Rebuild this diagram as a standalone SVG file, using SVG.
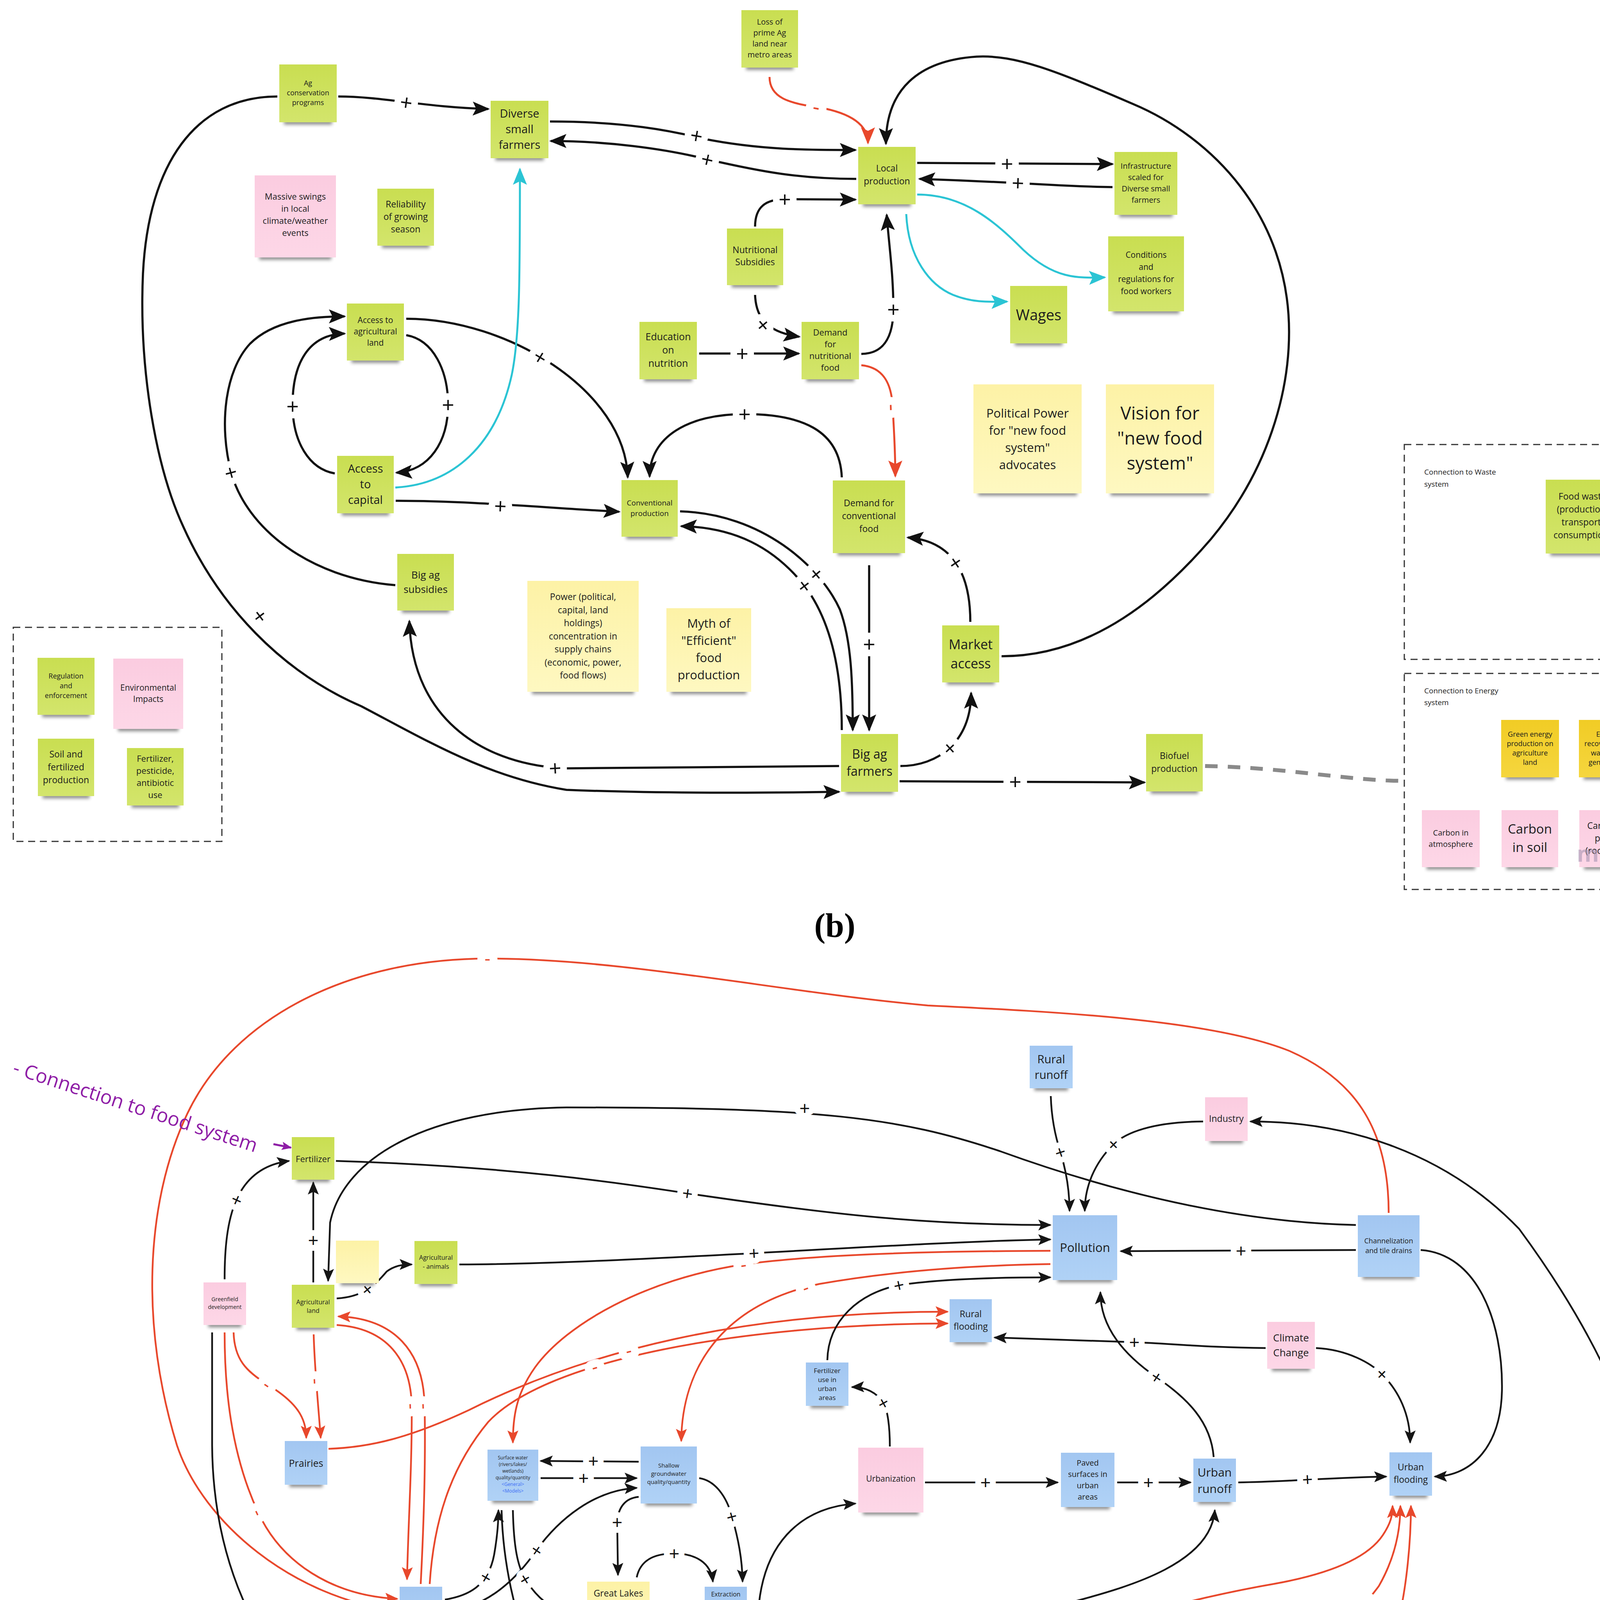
<svg xmlns="http://www.w3.org/2000/svg" width="4310" height="5495" viewBox="0 0 4310 5495">
<defs>
<linearGradient id="gG" x1="0" y1="0" x2="0" y2="1"><stop offset="0" stop-color="#c9de51"/><stop offset="1" stop-color="#d3e56c"/></linearGradient>
<linearGradient id="gP" x1="0" y1="0" x2="0" y2="1"><stop offset="0" stop-color="#fbcce0"/><stop offset="1" stop-color="#fdd7e7"/></linearGradient>
<linearGradient id="gB" x1="0" y1="0" x2="0" y2="1"><stop offset="0" stop-color="#a2c6f1"/><stop offset="1" stop-color="#b0d2f6"/></linearGradient>
<linearGradient id="gY" x1="0" y1="0" x2="0" y2="1"><stop offset="0" stop-color="#fdf2a6"/><stop offset="1" stop-color="#fef8c1"/></linearGradient>
<linearGradient id="gO" x1="0" y1="0" x2="0" y2="1"><stop offset="0" stop-color="#f1cc25"/><stop offset="1" stop-color="#f5d63e"/></linearGradient>
<filter id="bl" x="-20%" y="-150%" width="140%" height="400%"><feGaussianBlur stdDeviation="4"/></filter>
<marker id="mk" viewBox="0 0 44 36" refX="40" refY="18" markerWidth="44" markerHeight="36" markerUnits="userSpaceOnUse" orient="auto"><path d="M0 0 L44 18 L0 36 L9 18Z" fill="#111"/></marker>
<marker id="mr" viewBox="0 0 44 36" refX="40" refY="18" markerWidth="44" markerHeight="36" markerUnits="userSpaceOnUse" orient="auto"><path d="M0 0 L44 18 L0 36 L9 18Z" fill="#e8482c"/></marker>
<marker id="mc" viewBox="0 0 44 36" refX="40" refY="18" markerWidth="44" markerHeight="36" markerUnits="userSpaceOnUse" orient="auto"><path d="M0 0 L44 18 L0 36 L9 18Z" fill="#2bc4d4"/></marker>
<marker id="sk" viewBox="0 0 34 28" refX="31" refY="14" markerWidth="34" markerHeight="28" markerUnits="userSpaceOnUse" orient="auto"><path d="M0 0 L34 14 L0 28 L7 14Z" fill="#151515"/></marker>
<marker id="sr" viewBox="0 0 34 28" refX="31" refY="14" markerWidth="34" markerHeight="28" markerUnits="userSpaceOnUse" orient="auto"><path d="M0 0 L34 14 L0 28 L7 14Z" fill="#e8482c"/></marker>
<marker id="sg" viewBox="0 0 34 28" refX="31" refY="14" markerWidth="34" markerHeight="28" markerUnits="userSpaceOnUse" orient="auto"><path d="M0 0 L34 14 L0 28 L7 14Z" fill="#8c8c8c"/></marker>
<marker id="sp" viewBox="0 0 34 28" refX="31" refY="14" markerWidth="26" markerHeight="22" markerUnits="userSpaceOnUse" orient="auto"><path d="M0 0 L34 14 L0 28 L7 14Z" fill="#8e1da6"/></marker>
</defs>
<style>
.ng{fill:url(#gG)}.np{fill:url(#gP)}.nb{fill:url(#gB)}.ny{fill:url(#gY)}.no{fill:url(#gO)}
.sh{fill:#2e2e2e;opacity:.55;filter:url(#bl)}
.t{font-family:'Open Sans','Liberation Sans',sans-serif;fill:#1c1c1c;text-anchor:middle}
.k{fill:none;stroke:#111;stroke-width:5.5}
.kr{fill:none;stroke:#e8482c;stroke-width:5}
.kc{fill:none;stroke:#2bc4d4;stroke-width:5}
.c{fill:none;stroke:#151515;stroke-width:4.5}
.cr{fill:none;stroke:#e8482c;stroke-width:4.5}
.cg{fill:none;stroke:#8c8c8c;stroke-width:4.5}
.lab{font-family:'Liberation Sans',sans-serif;font-size:54px;text-anchor:middle;dominant-baseline:central;fill:#111;stroke:#fff;stroke-width:34px;paint-order:stroke;stroke-linejoin:round}
.ls{font-size:46px;stroke-width:30px}
.lr{fill:#e8482c;stroke-width:40px}
.dash{fill:none;stroke:#333;stroke-width:3;stroke-dasharray:18 12}
.bx{font-family:'Open Sans','Liberation Sans',sans-serif;fill:#222;font-size:19px}
</style>
<rect width="4310" height="5495" fill="#fff"/>
<g id="connectors">
<path class="k" d="M866 247 C980 247 1090 275 1250 279" marker-end="url(#mk)"/>
<path class="k" d="M710 247 C500 247 380 420 366 700 C355 950 400 1200 470 1350 C560 1550 720 1720 925 1808 C1100 1900 1250 1990 1450 2022 C1700 2032 1950 2030 2148 2027" marker-end="url(#mk)"/>
<path class="k" d="M1408 311 C1600 311 1720 335 1800 355 C1950 385 2080 384 2190 384" marker-end="url(#mk)"/>
<path class="k" d="M2192 458 C2050 458 1950 440 1811 408 C1700 380 1550 361 1410 361" marker-end="url(#mk)"/>
<path class="kr" d="M1970 197 C1970 250 2020 265 2097 275 C2180 290 2222 320 2222 366" marker-end="url(#mr)"/>
<path class="k" d="M2564 1680 C2800 1680 2980 1520 3100 1380 C3250 1200 3300 1000 3300 850 C3300 550 3100 350 2900 266 C2700 180 2600 140 2500 145 C2350 155 2268 230 2268 368" marker-end="url(#mk)"/>
<path class="k" d="M2348 417 L2848 420" marker-end="url(#mk)"/>
<path class="k" d="M2848 479 C2700 477 2650 468 2354 458" marker-end="url(#mk)"/>
<path class="kc" d="M2320 548 C2325 660 2380 730 2440 755 C2490 775 2530 773 2578 772" marker-end="url(#mc)"/>
<path class="kc" d="M2348 498 C2470 498 2550 570 2620 640 C2700 715 2760 712 2828 710" marker-end="url(#mc)"/>
<path class="k" d="M1933 580 C1933 530 1960 510 2010 510 L2190 511" marker-end="url(#mk)"/>
<path class="k" d="M1933 755 C1935 810 1960 850 2046 862" marker-end="url(#mk)"/>
<path class="k" d="M1790 905 L2045 905" marker-end="url(#mk)"/>
<path class="k" d="M2205 906 C2270 906 2287 850 2287 790 C2287 700 2275 620 2270 550" marker-end="url(#mk)"/>
<path class="kr" d="M2205 935 C2260 940 2282 980 2285 1040 C2290 1120 2292 1170 2292 1219" marker-end="url(#mr)"/>
<path class="k" d="M2155 1222 C2150 1100 2050 1060 1906 1060 C1760 1060 1663 1120 1663 1220" marker-end="url(#mk)"/>
<path class="k" d="M1040 816 C1300 816 1600 1000 1607 1222" marker-end="url(#mk)"/>
<path class="k" d="M857 1212 C790 1200 750 1130 749 1040 C748 930 790 856 882 854" marker-end="url(#mk)"/>
<path class="k" d="M1040 858 C1110 870 1147 950 1147 1036 C1147 1130 1100 1205 1015 1210" marker-end="url(#mk)"/>
<path class="k" d="M1012 1498 C790 1480 630 1350 592 1210 C560 1090 575 950 640 880 C700 820 800 810 882 810" marker-end="url(#mk)"/>
<path class="kc" d="M1012 1248 C1160 1240 1270 1140 1310 960 C1331 860 1331 700 1331 433" marker-end="url(#mc)"/>
<path class="k" d="M1013 1282 C1200 1282 1400 1300 1585 1310" marker-end="url(#mk)"/>
<path class="k" d="M1741 1309 C1950 1315 2100 1450 2150 1560 C2180 1640 2183 1750 2183 1869" marker-end="url(#mk)"/>
<path class="k" d="M2155 1869 C2155 1700 2120 1580 2060 1500 C1980 1400 1880 1350 1744 1347" marker-end="url(#mk)"/>
<path class="k" d="M2225 1447 L2225 1869" marker-end="url(#mk)"/>
<path class="k" d="M2484 1592 C2484 1470 2440 1385 2324 1376" marker-end="url(#mk)"/>
<path class="k" d="M2305 1961 C2400 1961 2486 1900 2486 1774" marker-end="url(#mk)"/>
<path class="k" d="M2148 1961 L1450 1967 C1250 1960 1055 1850 1048 1590" marker-end="url(#mk)"/>
<path class="k" d="M2303 2000 L2930 2003" marker-end="url(#mk)"/>
<path d="M3085 1961 C3300 1965 3450 1999 3595 1999" fill="none" stroke="#8a8a8a" stroke-width="10" stroke-dasharray="32 26"/>
<path class="cr" d="M3555 3105 C3555 2880 3460 2760 3300 2690 C3100 2610 2700 2590 2375 2574 C2000 2540 1600 2454 1248 2454 C900 2454 600 2600 480 2850 C370 3080 360 3400 453 3700 C520 3900 750 4090 1017 4124" marker-end="url(#sr)"/>
<path class="c" d="M860 2972 C1300 2985 1600 3030 1760 3055 C2100 3105 2350 3136 2689 3136" marker-end="url(#sk)"/>
<path class="c" d="M3471 3136 C3200 3130 2900 3070 2560 2947 C2300 2860 2100 2835 1450 2835 C1100 2840 880 2960 845 3130 L840 3279" marker-end="url(#sk)"/>
<path class="c" d="M802 3283 L802 3027" marker-end="url(#sk)"/>
<path class="c" d="M575 3275 C575 3120 600 2990 740 2972" marker-end="url(#sk)"/>
<path class="c" d="M862 3324 C930 3320 960 3290 990 3255 C1010 3240 1030 3237 1054 3237" marker-end="url(#sk)"/>
<path class="c" d="M1176 3237 C1600 3236 2300 3180 2689 3173" marker-end="url(#sk)"/>
<path class="cr" d="M2689 3202 C2400 3203 2100 3210 1903 3237 C1650 3275 1450 3390 1370 3500 C1320 3570 1313 3630 1313 3693" marker-end="url(#sr)"/>
<path class="cr" d="M2689 3236 C2450 3240 2250 3260 2097 3287 C1850 3340 1746 3500 1744 3689" marker-end="url(#sr)"/>
<path class="cr" d="M1100 4055 C1110 3900 1150 3760 1250 3640 C1400 3480 1900 3390 2426 3388" marker-end="url(#sr)"/>
<path class="cr" d="M841 3709 C950 3705 1050 3680 1200 3610 C1500 3460 1900 3358 2426 3358" marker-end="url(#sr)"/>
<path class="cr" d="M862 3392 C990 3400 1052 3480 1054 3600 C1055 3750 1045 3900 1042 4043" marker-end="url(#sr)"/>
<path class="cr" d="M1077 4055 C1085 3900 1090 3750 1087 3600 C1085 3460 1010 3375 866 3370" marker-end="url(#sr)"/>
<path class="cr" d="M598 3411 C600 3480 630 3510 684 3544 C760 3590 784 3630 784 3681" marker-end="url(#sr)"/>
<path class="cr" d="M803 3416 C805 3500 815 3600 821 3681" marker-end="url(#sr)"/>
<path class="cr" d="M575 3411 C575 3550 590 3720 661 3872 C720 4000 850 4085 1017 4093" marker-end="url(#sr)"/>
<path class="c" d="M543 3411 L543 3700 C545 3950 620 4180 832 4410 C1000 4550 1200 4590 1450 4581 C1750 4540 2300 4290 2745 4101 C2900 4060 3100 4000 3110 3866" marker-end="url(#sk)"/>
<path class="cr" d="M1077 4192 C1080 4350 1150 4500 1295 4581 C1380 4625 1420 4633 1500 4632 C1700 4620 2000 4500 2245 4381 C2600 4210 3000 4100 3260 4055 C3400 4030 3500 3990 3540 3930 C3560 3900 3565 3880 3565 3855" marker-end="url(#sr)"/>
<path class="cr" d="M3297 4198 C3400 4190 3480 4130 3530 4060 C3570 3990 3585 3920 3585 3855" marker-end="url(#sr)"/>
<path class="cr" d="M3543 4393 C3545 4300 3565 4200 3583 4135 C3600 4060 3612 3950 3612 3855" marker-end="url(#sr)"/>
<path class="c" d="M1635 3742 L1384 3740" marker-end="url(#sk)"/>
<path class="c" d="M1384 3784 L1630 3784" marker-end="url(#sk)"/>
<path class="c" d="M1139 4095 C1200 4085 1250 4060 1265 3980 C1272 3940 1276 3900 1276 3866" marker-end="url(#sk)"/>
<path class="c" d="M1139 4124 C1230 4120 1310 4060 1373 3969 C1430 3890 1520 3815 1630 3809" marker-end="url(#sk)"/>
<path class="c" d="M1313 3866 C1315 3960 1325 4010 1345 4043 C1380 4100 1430 4135 1492 4137" marker-end="url(#sk)"/>
<path class="c" d="M1284 3866 C1290 4100 1380 4350 1510 4518 C1650 4690 1900 4790 2134 4799" marker-end="url(#sk)"/>
<path class="c" d="M1584 4222 C1585 4400 1640 4530 1734 4616 C1850 4720 2000 4765 2134 4770" marker-end="url(#sk)"/>
<path class="c" d="M1635 3832 C1600 3835 1582 3860 1580 3897 L1582 4032" marker-end="url(#sk)"/>
<path class="c" d="M1630 4038 C1640 3990 1680 3977 1726 3977 C1780 3977 1820 4000 1825 4049" marker-end="url(#sk)"/>
<path class="c" d="M1790 3784 C1830 3790 1860 3830 1874 3883 C1890 3940 1900 3990 1901 4049" marker-end="url(#sk)"/>
<path class="cr" d="M1857 4192 C1850 4250 1800 4285 1746 4298 C1690 4310 1640 4290 1630 4244" marker-end="url(#sr)"/>
<path class="c" d="M2368 3795 L2708 3795" marker-end="url(#sk)"/>
<path class="c" d="M2860 3795 L3048 3795" marker-end="url(#sk)"/>
<path class="c" d="M3170 3795 C3300 3793 3400 3783 3549 3780" marker-end="url(#sk)"/>
<path class="c" d="M2518 5148 C2300 5145 2120 5060 2050 4930 C2000 4830 1994 4700 1994 4570 C1990 4400 1940 4300 1940 4150 C1945 3950 2050 3860 2190 3849" marker-end="url(#sk)"/>
<path class="c" d="M2544 4505 C2450 4505 2390 4510 2344 4527 C2280 4550 2250 4600 2250 4673" marker-end="url(#sk)"/>
<path class="c" d="M2361 4799 C2430 4795 2490 4770 2525 4744 C2575 4700 2600 4640 2601 4570" marker-end="url(#sk)"/>
<path class="c" d="M2627 4936 C2630 4850 2640 4770 2645 4720 L2654 4570" marker-end="url(#sk)"/>
<path class="c" d="M2248 4927 C2250 4990 2290 5030 2340 5045 C2400 5060 2450 5062 2516 5062" marker-end="url(#sk)"/>
<path class="c" d="M2967 4927 C2967 4990 2930 5030 2888 5040 C2840 5055 2800 5062 2740 5062" marker-end="url(#sk)"/>
<path class="c" d="M2738 5110 L2900 5108 C3300 5050 3800 4900 4069 4616 C4200 4470 4244 4250 4244 4043 C4244 3800 4150 3500 3889 3146 C3700 2950 3450 2871 3201 2871" marker-end="url(#sk)"/>
<path class="c" d="M3080 2871 C2950 2872 2880 2900 2850 2930 C2800 2980 2777 3040 2777 3100" marker-end="url(#sk)"/>
<path class="c" d="M2690 2806 C2692 2870 2705 2920 2715 2950 C2730 3000 2738 3050 2738 3100" marker-end="url(#sk)"/>
<path class="c" d="M3471 3200 L2869 3203" marker-end="url(#sk)"/>
<path class="c" d="M3637 3200 C3780 3210 3848 3380 3845 3560 C3842 3700 3770 3778 3673 3780" marker-end="url(#sk)"/>
<path class="c" d="M3240 3451 C3100 3450 3000 3440 2904 3436 L2546 3424" marker-end="url(#sk)"/>
<path class="c" d="M3369 3451 C3450 3455 3510 3490 3538 3518 C3580 3560 3610 3620 3610 3693" marker-end="url(#sk)"/>
<path class="c" d="M3107 3730 C3100 3640 3040 3580 2961 3526 C2880 3470 2817 3400 2817 3308" marker-end="url(#sk)"/>
<path class="c" d="M2118 3482 C2120 3380 2200 3310 2301 3290 C2400 3275 2550 3270 2689 3270" marker-end="url(#sk)"/>
<path class="c" d="M2278 3703 C2278 3650 2272 3610 2262 3592 C2245 3565 2215 3550 2181 3551" marker-end="url(#sk)"/>
<path class="c" d="M2627 4375 C2630 4280 2690 4210 2784 4187 C2880 4165 3000 4155 3125 4152" marker-end="url(#sk)"/>
<path class="c" d="M2712 4402 C2850 4410 2950 4430 3057 4459 C3200 4500 3300 4515 3431 4518" marker-end="url(#sk)"/>
<path class="cr" d="M2712 4475 C2850 4480 2940 4520 3000 4580 C3100 4690 3200 4800 3314 4801" marker-end="url(#sr)"/>
<path class="c" d="M2712 4498 C2800 4500 2850 4510 2881 4524 C2940 4550 2967 4610 2967 4673" marker-end="url(#sk)"/>
<path class="c" d="M3808 4518 L3655 4518" marker-end="url(#sk)"/>
<path class="c" d="M911 4812 L1135 4812" marker-end="url(#sk)"/>
<path class="cr" d="M1255 4812 L1494 4812" marker-end="url(#sr)"/>
<path class="cg" d="M2139 4847 C2000 4845 1930 4838 1887 4830 C1800 4818 1700 4811 1616 4811" marker-end="url(#sg)"/>
<path d="M700 2929 L745 2938" fill="none" stroke="#8e1da6" stroke-width="5" marker-end="url(#sp)"/>
</g>

<g id="labels">
<text class="lab" x="1040" y="262" transform="rotate(8 1040 262)">+</text>
<text class="lab" x="666" y="1577" transform="rotate(53 666 1577)">+</text>
<text class="lab" x="1783" y="347" transform="rotate(10 1783 347)">+</text>
<text class="lab" x="1811" y="408" transform="rotate(13 1811 408)">+</text>
<text class="lab" x="2578" y="419">+</text>
<text class="lab" x="2606" y="468" transform="rotate(2 2606 468)">+</text>
<text class="lab" x="2009" y="510">+</text>
<text class="lab" x="1954" y="832" transform="rotate(50 1954 832)">+</text>
<text class="lab" x="1900" y="905">+</text>
<text class="lab" x="2287" y="792">+</text>
<text class="lab" x="1906" y="1060">+</text>
<text class="lab" x="1383" y="914" transform="rotate(31 1383 914)">+</text>
<text class="lab" x="749" y="1040">+</text>
<text class="lab" x="1147" y="1036">+</text>
<text class="lab" x="592" y="1210" transform="rotate(75 592 1210)">+</text>
<text class="lab" x="1281" y="1295" transform="rotate(2 1281 1295)">+</text>
<text class="lab" x="2090" y="1470" transform="rotate(50 2090 1470)">+</text>
<text class="lab" x="2060" y="1500" transform="rotate(53 2060 1500)">+</text>
<text class="lab" x="2225" y="1649">+</text>
<text class="lab" x="2447" y="1441" transform="rotate(56 2447 1441)">+</text>
<text class="lab" x="2431" y="1915" transform="rotate(-43 2431 1915)">+</text>
<text class="lab" x="1421" y="1966" transform="rotate(-3 1421 1966)">+</text>
<text class="lab" x="2599" y="2001">+</text>
<text class="lab lr" x="2090" y="273" transform="rotate(10 2090 273)">-</text>
<text class="lab lr" x="2285" y="1043" transform="rotate(88 2285 1043)">-</text>
<text class="lab ls lr" x="1248" y="2454">-</text>
<text class="lab ls" x="1760" y="3055" transform="rotate(8 1760 3055)">+</text>
<text class="lab ls" x="2060" y="2837">+</text>
<text class="lab ls" x="802" y="3175">+</text>
<text class="lab ls" x="605" y="3072" transform="rotate(-66 605 3072)">+</text>
<text class="lab ls" x="940" y="3301" transform="rotate(-40 940 3301)">+</text>
<text class="lab ls" x="1930" y="3208" transform="rotate(-3 1930 3208)">+</text>
<text class="lab ls lr" x="1903" y="3237" transform="rotate(-8 1903 3237)">-</text>
<text class="lab ls lr" x="2062" y="3296" transform="rotate(-20 2062 3296)">-</text>
<text class="lab ls lr" x="1522" y="3499" transform="rotate(-17 1522 3499)">-</text>
<text class="lab ls lr" x="1609" y="3457" transform="rotate(-14 1609 3457)">-</text>
<text class="lab ls lr" x="1054" y="3600" transform="rotate(88 1054 3600)">-</text>
<text class="lab ls lr" x="1087" y="3600" transform="rotate(88 1087 3600)">-</text>
<text class="lab ls lr" x="684" y="3544" transform="rotate(35 684 3544)">-</text>
<text class="lab ls lr" x="809" y="3536" transform="rotate(87 809 3536)">-</text>
<text class="lab ls lr" x="661" y="3872" transform="rotate(65 661 3872)">-</text>
<text class="lab ls" x="1495" y="4575" transform="rotate(-8 1495 4575)">+</text>
<text class="lab ls lr" x="2245" y="4381" transform="rotate(-26 2245 4381)">-</text>
<text class="lab ls lr" x="3496" y="4100" transform="rotate(-55 3496 4100)">-</text>
<text class="lab ls lr" x="3583" y="4135" transform="rotate(-74 3583 4135)">-</text>
<text class="lab ls" x="1519" y="3740">+</text>
<text class="lab ls" x="1494" y="3784">+</text>
<text class="lab ls" x="1243" y="4038" transform="rotate(-60 1243 4038)">+</text>
<text class="lab ls" x="1373" y="3969" transform="rotate(-55 1373 3969)">+</text>
<text class="lab ls" x="1345" y="4043" transform="rotate(59 1345 4043)">+</text>
<text class="lab ls" x="1510" y="4518" transform="rotate(52 1510 4518)">+</text>
<text class="lab ls" x="1734" y="4616" transform="rotate(42 1734 4616)">+</text>
<text class="lab ls" x="1580" y="3897">+</text>
<text class="lab ls" x="1726" y="3977">+</text>
<text class="lab ls" x="1874" y="3883" transform="rotate(75 1874 3883)">+</text>
<text class="lab ls lr" x="1746" y="4298" transform="rotate(-14 1746 4298)">-</text>
<text class="lab ls" x="2523" y="3795">+</text>
<text class="lab ls" x="2940" y="3795">+</text>
<text class="lab ls" x="3347" y="3787" transform="rotate(-3 3347 3787)">+</text>
<text class="lab ls" x="1994" y="4570">+</text>
<text class="lab ls" x="2344" y="4527" transform="rotate(-20 2344 4527)">+</text>
<text class="lab ls" x="2525" y="4744" transform="rotate(-37 2525 4744)">+</text>
<text class="lab ls" x="2641" y="4767">+</text>
<text class="lab ls" x="2340" y="5045" transform="rotate(18 2340 5045)">+</text>
<text class="lab ls" x="2888" y="5040" transform="rotate(-18 2888 5040)">+</text>
<text class="lab ls" x="4231" y="4230" transform="rotate(-78 4231 4230)">+</text>
<text class="lab ls" x="2850" y="2930" transform="rotate(-45 2850 2930)">+</text>
<text class="lab ls" x="2715" y="2950" transform="rotate(72 2715 2950)">+</text>
<text class="lab ls" x="3177" y="3202">+</text>
<text class="lab ls" x="2904" y="3436">+</text>
<text class="lab ls" x="3538" y="3518" transform="rotate(45 3538 3518)">+</text>
<text class="lab ls" x="2961" y="3526" transform="rotate(34 2961 3526)">+</text>
<text class="lab ls" x="2301" y="3290" transform="rotate(-12 2301 3290)">+</text>
<text class="lab ls" x="2262" y="3592" transform="rotate(61 2262 3592)">+</text>
<text class="lab ls" x="2784" y="4187" transform="rotate(-14 2784 4187)">+</text>
<text class="lab ls" x="3057" y="4459" transform="rotate(15 3057 4459)">+</text>
<text class="lab ls" x="2881" y="4524" transform="rotate(24 2881 4524)">+</text>
<text class="lab ls" x="3739" y="4518">+</text>
<text class="lab ls" x="1008" y="4812">+</text>
<text class="lab ls lr" x="1359" y="4813">-</text>
<text class="lab ls" x="1887" y="4830" style="fill:#8c8c8c">?</text>
</g>

<g id="frames">
<rect class="dash" x="34" y="1606" width="534" height="548"/>
<rect class="dash" x="3595" y="1138" width="657" height="550"/>
<text class="bx" x="3646" y="1215">Connection to Waste</text>
<text class="bx" x="3646" y="1246">system</text>
<rect class="dash" x="3595" y="1724" width="657" height="553"/>
<text class="bx" x="3646" y="1775">Connection to Energy</text>
<text class="bx" x="3646" y="1805">system</text>
</g>

<g id="nodes">
<g id="n-agcons"><rect class="sh" x="727" y="307" width="123" height="12"/><rect class="ng" x="715" y="165" width="147" height="148"/><text class="t" x="788.5" y="219.3" font-size="18"><tspan x="788.5">Ag</tspan><tspan x="788.5" dy="25">conservation</tspan><tspan x="788.5" dy="25">programs</tspan></text></g>
<g id="n-diverse"><rect class="sh" x="1268" y="399" width="124" height="12"/><rect class="ng" x="1256" y="258" width="148" height="147"/><text class="t" x="1330" y="301" font-size="29"><tspan x="1330">Diverse</tspan><tspan x="1330" dy="40">small</tspan><tspan x="1330" dy="40">farmers</tspan></text></g>
<g id="n-massive"><rect class="sh" x="664" y="653" width="184" height="12"/><rect class="np" x="652" y="449" width="208" height="210"/><text class="t" x="756" y="511" font-size="22"><tspan x="756">Massive swings</tspan><tspan x="756" dy="31">in local</tspan><tspan x="756" dy="31">climate/weather</tspan><tspan x="756" dy="31">events</tspan></text></g>
<g id="n-reliab"><rect class="sh" x="978" y="623" width="121" height="12"/><rect class="ng" x="966" y="483" width="145" height="146"/><text class="t" x="1038.5" y="531" font-size="23"><tspan x="1038.5">Reliability</tspan><tspan x="1038.5" dy="32">of growing</tspan><tspan x="1038.5" dy="32">season</tspan></text></g>
<g id="n-accag"><rect class="sh" x="900" y="917" width="122" height="12"/><rect class="ng" x="888" y="777" width="146" height="146"/><text class="t" x="961" y="827.4" font-size="21"><tspan x="961">Access to</tspan><tspan x="961" dy="29">agricultural</tspan><tspan x="961" dy="29">land</tspan></text></g>
<g id="n-loss"><rect class="sh" x="1910" y="167" width="121" height="12"/><rect class="ng" x="1898" y="26" width="145" height="147"/><text class="t" x="1970.5" y="62.5" font-size="20"><tspan x="1970.5">Loss of</tspan><tspan x="1970.5" dy="28">prime Ag</tspan><tspan x="1970.5" dy="28">land near</tspan><tspan x="1970.5" dy="28">metro areas</tspan></text></g>
<g id="n-local"><rect class="sh" x="2209" y="517" width="123" height="12"/><rect class="ng" x="2197" y="376" width="147" height="147"/><text class="t" x="2270.5" y="439" font-size="23"><tspan x="2270.5">Local</tspan><tspan x="2270.5" dy="33">production</tspan></text></g>
<g id="n-infra"><rect class="sh" x="2865" y="544" width="137" height="12"/><rect class="ng" x="2853" y="389" width="161" height="161"/><text class="t" x="2933.5" y="431.5" font-size="20"><tspan x="2933.5">Infrastructure</tspan><tspan x="2933.5" dy="29">scaled for</tspan><tspan x="2933.5" dy="29">Diverse small</tspan><tspan x="2933.5" dy="29">farmers</tspan></text></g>
<g id="n-nutsub"><rect class="sh" x="1873" y="724" width="120" height="12"/><rect class="ng" x="1861" y="585" width="144" height="145"/><text class="t" x="1933" y="648" font-size="23"><tspan x="1933">Nutritional</tspan><tspan x="1933" dy="31">Subsidies</tspan></text></g>
<g id="n-wages"><rect class="sh" x="2598" y="873" width="122" height="12"/><rect class="ng" x="2586" y="732" width="146" height="147"/><text class="t" x="2659" y="820" font-size="38">Wages</text></g>
<g id="n-cond"><rect class="sh" x="2849" y="791" width="170" height="12"/><rect class="ng" x="2837" y="605" width="194" height="192"/><text class="t" x="2934" y="660" font-size="21"><tspan x="2934">Conditions</tspan><tspan x="2934" dy="31">and</tspan><tspan x="2934" dy="31">regulations for</tspan><tspan x="2934" dy="31">food workers</tspan></text></g>
<g id="n-edu"><rect class="sh" x="1649" y="965" width="123" height="12"/><rect class="ng" x="1637" y="824" width="147" height="147"/><text class="t" x="1710.5" y="870.75" font-size="25"><tspan x="1710.5">Education</tspan><tspan x="1710.5" dy="34">on</tspan><tspan x="1710.5" dy="34">nutrition</tspan></text></g>
<g id="n-demnut"><rect class="sh" x="2064" y="965" width="123" height="12"/><rect class="ng" x="2052" y="824" width="147" height="147"/><text class="t" x="2125.5" y="858.7" font-size="22"><tspan x="2125.5">Demand</tspan><tspan x="2125.5" dy="30">for</tspan><tspan x="2125.5" dy="30">nutritional</tspan><tspan x="2125.5" dy="30">food</tspan></text></g>
<g id="n-polpow"><rect class="sh" x="2504" y="1257" width="253" height="12"/><rect class="ny" x="2492" y="984" width="277" height="279"/><text class="t" x="2630.5" y="1068.85" font-size="31"><tspan x="2630.5">Political Power</tspan><tspan x="2630.5" dy="44">for "new food</tspan><tspan x="2630.5" dy="44">system"</tspan><tspan x="2630.5" dy="44">advocates</tspan></text></g>
<g id="n-vision"><rect class="sh" x="2843" y="1257" width="253" height="12"/><rect class="ny" x="2831" y="984" width="277" height="279"/><text class="t" x="2969.5" y="1074.1" font-size="46"><tspan x="2969.5">Vision for</tspan><tspan x="2969.5" dy="64">"new food</tspan><tspan x="2969.5" dy="64">system"</tspan></text></g>
<g id="n-acccap"><rect class="sh" x="875" y="1308" width="121" height="12"/><rect class="ng" x="863" y="1167" width="145" height="147"/><text class="t" x="935.5" y="1210.15" font-size="29"><tspan x="935.5">Access</tspan><tspan x="935.5" dy="40">to</tspan><tspan x="935.5" dy="40">capital</tspan></text></g>
<g id="n-bigsub"><rect class="sh" x="1029" y="1557" width="121" height="12"/><rect class="ng" x="1017" y="1418" width="145" height="145"/><text class="t" x="1089.5" y="1480.6" font-size="26"><tspan x="1089.5">Big ag</tspan><tspan x="1089.5" dy="37">subsidies</tspan></text></g>
<g id="n-power"><rect class="sh" x="1362" y="1765" width="261" height="12"/><rect class="ny" x="1350" y="1487" width="285" height="284"/><text class="t" x="1492.5" y="1536" font-size="23"><tspan x="1492.5">Power (political,</tspan><tspan x="1492.5" dy="33.5">capital, land</tspan><tspan x="1492.5" dy="33.5">holdings)</tspan><tspan x="1492.5" dy="33.5">concentration in</tspan><tspan x="1492.5" dy="33.5">supply chains</tspan><tspan x="1492.5" dy="33.5">(economic, power,</tspan><tspan x="1492.5" dy="33.5">food flows)</tspan></text></g>
<g id="n-reg"><rect class="sh" x="108" y="1824" width="122" height="12"/><rect class="ng" x="96" y="1684" width="146" height="146"/><text class="t" x="169" y="1737.3" font-size="18"><tspan x="169">Regulation</tspan><tspan x="169" dy="25">and</tspan><tspan x="169" dy="25">enforcement</tspan></text></g>
<g id="n-envimp"><rect class="sh" x="302" y="1860" width="155" height="12"/><rect class="np" x="290" y="1686" width="179" height="180"/><text class="t" x="379.5" y="1767.85" font-size="21"><tspan x="379.5">Environmental</tspan><tspan x="379.5" dy="29">Impacts</tspan></text></g>
<g id="n-soil"><rect class="sh" x="109" y="2032" width="120" height="12"/><rect class="ng" x="97" y="1891" width="144" height="147"/><text class="t" x="169" y="1938.5" font-size="23"><tspan x="169">Soil and</tspan><tspan x="169" dy="33">fertilized</tspan><tspan x="169" dy="33">production</tspan></text></g>
<g id="n-fertb"><rect class="sh" x="337" y="2056" width="121" height="12"/><rect class="ng" x="325" y="1915" width="145" height="147"/><text class="t" x="397.5" y="1950.2" font-size="22"><tspan x="397.5">Fertilizer,</tspan><tspan x="397.5" dy="31">pesticide,</tspan><tspan x="397.5" dy="31">antibiotic</tspan><tspan x="397.5" dy="31">use</tspan></text></g>
<g id="n-conv"><rect class="sh" x="1603" y="1368" width="120" height="12"/><rect class="ng" x="1591" y="1229" width="144" height="145"/><text class="t" x="1663" y="1293.65" font-size="19"><tspan x="1663">Conventional</tspan><tspan x="1663" dy="27">production</tspan></text></g>
<g id="n-demconv"><rect class="sh" x="2144" y="1410" width="161" height="12"/><rect class="ng" x="2132" y="1230" width="185" height="186"/><text class="t" x="2224.5" y="1296" font-size="23"><tspan x="2224.5">Demand for</tspan><tspan x="2224.5" dy="33">conventional</tspan><tspan x="2224.5" dy="33">food</tspan></text></g>
<g id="n-myth"><rect class="sh" x="1718" y="1765" width="193" height="12"/><rect class="ny" x="1706" y="1557" width="217" height="214"/><text class="t" x="1814.5" y="1606.85" font-size="31"><tspan x="1814.5">Myth of</tspan><tspan x="1814.5" dy="44">"Efficient"</tspan><tspan x="1814.5" dy="44">food</tspan><tspan x="1814.5" dy="44">production</tspan></text></g>
<g id="n-market"><rect class="sh" x="2424" y="1741" width="122" height="12"/><rect class="ng" x="2412" y="1601" width="146" height="146"/><text class="t" x="2485" y="1661.9" font-size="34"><tspan x="2485">Market</tspan><tspan x="2485" dy="49">access</tspan></text></g>
<g id="n-bigag"><rect class="sh" x="2165" y="2021" width="122" height="12"/><rect class="ng" x="2153" y="1879" width="146" height="148"/><text class="t" x="2226" y="1941.7" font-size="32"><tspan x="2226">Big ag</tspan><tspan x="2226" dy="44">farmers</tspan></text></g>
<g id="n-biofuel"><rect class="sh" x="2946" y="2020" width="121" height="12"/><rect class="ng" x="2934" y="1879" width="145" height="147"/><text class="t" x="3006.5" y="1942.5" font-size="23"><tspan x="3006.5">Biofuel</tspan><tspan x="3006.5" dy="33">production</tspan></text></g>
<g id="n-foodwaste"><rect class="sh" x="3969" y="1411" width="164" height="12"/><rect class="ng" x="3957" y="1228" width="188" height="189"/><text class="t" x="4051" y="1279" font-size="23"><tspan x="4051">Food waste</tspan><tspan x="4051" dy="33">(production,</tspan><tspan x="4051" dy="33">transport,</tspan><tspan x="4051" dy="33">consumption)</tspan></text></g>
<g id="n-greenen"><rect class="sh" x="3855" y="1984" width="124" height="12"/><rect class="no" x="3843" y="1843" width="148" height="147"/><text class="t" x="3917" y="1885.8" font-size="18"><tspan x="3917">Green energy</tspan><tspan x="3917" dy="24">production on</tspan><tspan x="3917" dy="24">agriculture</tspan><tspan x="3917" dy="24">land</tspan></text></g>
<g id="n-enrec"><rect class="sh" x="4054" y="1984" width="122" height="12"/><rect class="no" x="4042" y="1843" width="146" height="147"/><text class="t" x="4115" y="1885.8" font-size="18"><tspan x="4115">Energy</tspan><tspan x="4115" dy="24">recovery from</tspan><tspan x="4115" dy="24">waste (co-</tspan><tspan x="4115" dy="24">generation)</tspan></text></g>
<g id="n-carbatm"><rect class="sh" x="3652" y="2214" width="124" height="12"/><rect class="np" x="3640" y="2074" width="148" height="146"/><text class="t" x="3714" y="2138.5" font-size="20"><tspan x="3714">Carbon in</tspan><tspan x="3714" dy="29">atmosphere</tspan></text></g>
<g id="n-carbsoil"><rect class="sh" x="3856" y="2214" width="121" height="12"/><rect class="np" x="3844" y="2074" width="145" height="146"/><text class="t" x="3916.5" y="2134" font-size="33"><tspan x="3916.5">Carbon</tspan><tspan x="3916.5" dy="47">in soil</tspan></text></g>
<g id="n-carbpl"><rect class="sh" x="4055" y="2214" width="121" height="12"/><rect class="np" x="4043" y="2074" width="145" height="146"/><text class="t" x="4115.5" y="2122" font-size="23"><tspan x="4115.5">Carbon in</tspan><tspan x="4115.5" dy="32">plants</tspan><tspan x="4115.5" dy="32">(roots, etc)</tspan></text></g>
<g id="n-fertilizer"><rect class="sh" x="759" y="3014" width="85" height="12"/><rect class="ng" x="747" y="2911" width="109" height="109"/><text class="t" x="801.5" y="2974.7" font-size="22">Fertilizer</text></g>
<g id="n-greenfield"><rect class="sh" x="533" y="3386" width="85" height="12"/><rect class="np" x="521" y="3283" width="109" height="109"/><text class="t" x="575.5" y="3330.9" font-size="14"><tspan x="575.5">Greenfield</tspan><tspan x="575.5" dy="20">development</tspan></text></g>
<g id="n-agland"><rect class="sh" x="759" y="3393" width="85" height="12"/><rect class="ng" x="747" y="3289" width="109" height="110"/><text class="t" x="801.5" y="3338.6" font-size="16"><tspan x="801.5">Agricultural</tspan><tspan x="801.5" dy="22">land</tspan></text></g>
<g id="n-yblank"><rect class="sh" x="872" y="3279" width="86" height="12"/><rect class="ny" x="860" y="3176" width="110" height="109"/></g>
<g id="n-animals"><rect class="sh" x="1073" y="3281" width="86" height="12"/><rect class="ng" x="1061" y="3177" width="110" height="110"/><text class="t" x="1116" y="3225.1" font-size="16"><tspan x="1116">Agricultural</tspan><tspan x="1116" dy="23">- animals</tspan></text></g>
<g id="n-ruralrun"><rect class="sh" x="2648" y="2780" width="86" height="12"/><rect class="nb" x="2636" y="2677" width="110" height="109"/><text class="t" x="2691" y="2722.15" font-size="29"><tspan x="2691">Rural</tspan><tspan x="2691" dy="40">runoff</tspan></text></g>
<g id="n-pollution"><rect class="sh" x="2707" y="3271" width="141" height="12"/><rect class="nb" x="2695" y="3111" width="165" height="166"/><text class="t" x="2777.5" y="3204.85" font-size="31">Pollution</text></g>
<g id="n-ruralflood"><rect class="sh" x="2443" y="3430" width="84" height="12"/><rect class="nb" x="2431" y="3326" width="108" height="110"/><text class="t" x="2485" y="3372" font-size="23"><tspan x="2485">Rural</tspan><tspan x="2485" dy="32">flooding</tspan></text></g>
<g id="n-fertuse"><rect class="sh" x="2075" y="3593" width="85" height="12"/><rect class="nb" x="2063" y="3488" width="109" height="111"/><text class="t" x="2117.5" y="3514.5" font-size="17"><tspan x="2117.5">Fertilizer</tspan><tspan x="2117.5" dy="23">use in</tspan><tspan x="2117.5" dy="23">urban</tspan><tspan x="2117.5" dy="23">areas</tspan></text></g>
<g id="n-industry"><rect class="sh" x="3097" y="2915" width="85" height="12"/><rect class="np" x="3085" y="2809" width="109" height="112"/><text class="t" x="3139.5" y="2872" font-size="23">Industry</text></g>
<g id="n-channel"><rect class="sh" x="3488" y="3263" width="134" height="12"/><rect class="nb" x="3476" y="3111" width="158" height="158"/><text class="t" x="3555" y="3183.3" font-size="18"><tspan x="3555">Channelization</tspan><tspan x="3555" dy="25">and tile drains</tspan></text></g>
<g id="n-climate"><rect class="sh" x="3256" y="3498" width="98" height="12"/><rect class="np" x="3244" y="3384" width="122" height="120"/><text class="t" x="3305" y="3433.6" font-size="26"><tspan x="3305">Climate</tspan><tspan x="3305" dy="38">Change</tspan></text></g>
<g id="n-prairies"><rect class="sh" x="741" y="3795" width="85" height="12"/><rect class="nb" x="729" y="3689" width="109" height="112"/><text class="t" x="783.5" y="3754.75" font-size="25">Prairies</text></g>
<g id="n-surface"><rect class="sh" x="1260" y="3836" width="106" height="12"/><rect class="nb" x="1248" y="3711" width="130" height="131"/><text class="t" x="1313" y="3736.2" font-size="12"><tspan x="1313">Surface water</tspan><tspan x="1313" dy="17">(rivers/lakes/</tspan><tspan x="1313" dy="17">wetlands)</tspan><tspan x="1313" dy="17">quality/quantity</tspan><tspan x="1313" dy="17" fill="#3b6cf6">&lt;General&gt;</tspan><tspan x="1313" dy="17" fill="#3b6cf6">&lt;Models&gt;</tspan></text></g>
<g id="n-wetlands"><rect class="sh" x="1035" y="4166" width="85" height="12"/><rect class="nb" x="1023" y="4062" width="109" height="110"/><text class="t" x="1077.5" y="4123" font-size="20">Wetlands</text></g>
<g id="n-connections"><rect class="sh" x="742" y="4885" width="151" height="12"/><rect class="nb" x="730" y="4715" width="175" height="176"/><text class="t" x="817.5" y="4770.3" font-size="18"><tspan x="817.5">Connections</tspan><tspan x="817.5" dy="24">between</tspan><tspan x="817.5" dy="24">waterways/water</tspan><tspan x="817.5" dy="24">bodies</tspan></text></g>
<g id="n-invasive"><rect class="sh" x="1151" y="4856" width="87" height="12"/><rect class="nb" x="1139" y="4751" width="111" height="111"/><text class="t" x="1194.5" y="4797" font-size="23"><tspan x="1194.5">Invasive</tspan><tspan x="1194.5" dy="32">species</tspan></text></g>
<g id="n-shallow"><rect class="sh" x="1652" y="3843" width="120" height="12"/><rect class="nb" x="1640" y="3703" width="144" height="146"/><text class="t" x="1712" y="3757.25" font-size="15"><tspan x="1712">Shallow</tspan><tspan x="1712" dy="21">groundwater</tspan><tspan x="1712" dy="21">quality/quantity</tspan></text></g>
<g id="n-urbanization"><rect class="sh" x="2209" y="3866" width="143" height="12"/><rect class="np" x="2197" y="3706" width="167" height="166"/><text class="t" x="2280.5" y="3793.35" font-size="21">Urbanization</text></g>
<g id="n-paved"><rect class="sh" x="2728" y="3852" width="113" height="12"/><rect class="nb" x="2716" y="3719" width="137" height="139"/><text class="t" x="2784.5" y="3751.5" font-size="20"><tspan x="2784.5">Paved</tspan><tspan x="2784.5" dy="29">surfaces in</tspan><tspan x="2784.5" dy="29">urban</tspan><tspan x="2784.5" dy="29">areas</tspan></text></g>
<g id="n-greatlakes"><rect class="sh" x="1515" y="4206" width="136" height="12"/><rect class="ny" x="1503" y="4049" width="160" height="163"/><text class="t" x="1583" y="4086.5" font-size="23"><tspan x="1583">Great Lakes</tspan><tspan x="1583" dy="33">water</tspan><tspan x="1583" dy="33">quality and</tspan><tspan x="1583" dy="33">quantity</tspan></text></g>
<g id="n-extraction"><rect class="sh" x="1816" y="4166" width="84" height="12"/><rect class="nb" x="1804" y="4062" width="108" height="110"/><text class="t" x="1858" y="4086.6" font-size="16"><tspan x="1858">Extraction</tspan><tspan x="1858" dy="23">of water for</tspan><tspan x="1858" dy="23">drinking</tspan><tspan x="1858" dy="23">water</tspan></text></g>
<g id="n-localbudget"><rect class="sh" x="2561" y="4538" width="133" height="12"/><rect class="np" x="2549" y="4383" width="157" height="161"/><text class="t" x="2627.5" y="4449" font-size="37"><tspan x="2627.5">Local</tspan><tspan x="2627.5" dy="54">budget</tspan></text></g>
<g id="n-recreational"><rect class="sh" x="2160" y="4887" width="181" height="12"/><rect class="nb" x="2148" y="4685" width="205" height="208"/><text class="t" x="2250.5" y="4777.8" font-size="28"><tspan x="2250.5">Recreational</tspan><tspan x="2250.5" dy="40">space</tspan></text></g>
<g id="n-native"><rect class="sh" x="1513" y="4856" width="85" height="12"/><rect class="nb" x="1501" y="4751" width="109" height="111"/><text class="t" x="1555.5" y="4788.1" font-size="16"><tspan x="1555.5">Native</tspan><tspan x="1555.5" dy="23">Fishing and</tspan><tspan x="1555.5" dy="23">fisheries</tspan></text></g>
<g id="n-econ"><rect class="sh" x="2536" y="5148" width="182" height="12"/><rect class="nb" x="2524" y="4947" width="206" height="207"/><text class="t" x="2627" y="5039.6" font-size="26"><tspan x="2627">Economic</tspan><tspan x="2627" dy="35">development</tspan></text></g>
<g id="n-safety"><rect class="sh" x="2877" y="4887" width="182" height="12"/><rect class="nb" x="2865" y="4685" width="206" height="208"/><text class="t" x="2968" y="4796.75" font-size="25">Safety/policing</text></g>
<g id="n-brownfield"><rect class="sh" x="2849" y="5297" width="84" height="12"/><rect class="nb" x="2837" y="5194" width="108" height="109"/><text class="t" x="2891" y="5244.35" font-size="11"><tspan x="2891">brownfield</tspan><tspan x="2891" dy="16">redevelopment</tspan></text></g>
<g id="n-urbanrun"><rect class="sh" x="3067" y="3839" width="85" height="12"/><rect class="nb" x="3055" y="3734" width="109" height="111"/><text class="t" x="3109.5" y="3779.5" font-size="30"><tspan x="3109.5">Urban</tspan><tspan x="3109.5" dy="42">runoff</tspan></text></g>
<g id="n-urbanflood"><rect class="sh" x="3569" y="3823" width="85" height="12"/><rect class="nb" x="3557" y="3718" width="109" height="111"/><text class="t" x="3611.5" y="3764" font-size="23"><tspan x="3611.5">Urban</tspan><tspan x="3611.5" dy="32">flooding</tspan></text></g>
<g id="n-community"><rect class="sh" x="3147" y="4250" width="133" height="12"/><rect class="nb" x="3135" y="4100" width="157" height="156"/><text class="t" x="3213.5" y="4154" font-size="23"><tspan x="3213.5">Community</tspan><tspan x="3213.5" dy="32">Capacity/m</tspan><tspan x="3213.5" dy="32">aintenance</tspan></text></g>
<g id="n-fema"><rect class="sh" x="3827" y="4320" width="134" height="12"/><rect class="np" x="3815" y="4168" width="158" height="158"/><text class="t" x="3894" y="4232.5" font-size="37"><tspan x="3894">FEMA</tspan><tspan x="3894" dy="53">budget</tspan></text></g>
<g id="n-waterinfra"><rect class="sh" x="3453" y="4604" width="181" height="12"/><rect class="nb" x="3441" y="4403" width="205" height="207"/><text class="t" x="3543.5" y="4476.75" font-size="25"><tspan x="3543.5">Water</tspan><tspan x="3543.5" dy="37">infrastructure</tspan><tspan x="3543.5" dy="37">development</tspan></text></g>
<g id="n-mwrd"><rect class="sh" x="3827" y="4584" width="134" height="12"/><rect class="np" x="3815" y="4430" width="158" height="160"/><text class="t" x="3894" y="4496" font-size="37"><tspan x="3894">MWRD</tspan><tspan x="3894" dy="53">budget</tspan></text></g>
<g id="n-leadurban"><rect class="sh" x="3332" y="4864" width="134" height="12"/><rect class="nb" x="3320" y="4712" width="158" height="158"/><text class="t" x="3399" y="4782.65" font-size="19"><tspan x="3399">Lead in urban</tspan><tspan x="3399" dy="28">communities</tspan></text></g>
<g id="n-leadrural"><rect class="sh" x="3541" y="4864" width="133" height="12"/><rect class="nb" x="3529" y="4712" width="157" height="158"/><text class="t" x="3607.5" y="4782.65" font-size="19"><tspan x="3607.5">Lead in rural</tspan><tspan x="3607.5" dy="28">communities</tspan></text></g>
</g>

<g id="annotations">
<text x="30" y="2748" transform="rotate(18 30 2748)" font-family="'Open Sans','Liberation Sans',sans-serif" font-size="50" fill="#8e1da6">- Connection to food system</text>
<text x="4105" y="2206" font-family="'Open Sans','Liberation Sans',sans-serif" font-size="58" font-weight="700" fill="#a795b3" opacity="0.6" text-anchor="middle">miro</text>
<text x="4107" y="5245" font-family="'Open Sans','Liberation Sans',sans-serif" font-size="60" font-weight="700" fill="#c8c8d0" text-anchor="middle">miro</text>
<text x="2137" y="2398" font-family="'Liberation Serif',serif" font-size="86" font-weight="700" fill="#000" text-anchor="middle">(b)</text>
<text x="2137" y="5436" font-family="'Liberation Serif',serif" font-size="86" font-weight="700" fill="#000" text-anchor="middle">(c)</text>
</g>
</svg>
